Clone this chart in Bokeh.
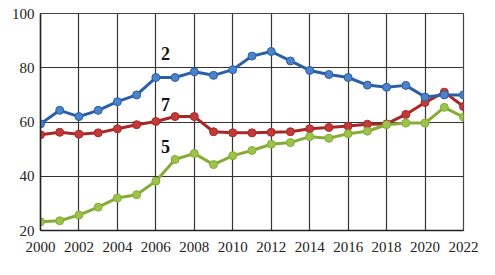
from bokeh.plotting import figure
from bokeh.embed import file_html
from bokeh.resources import INLINE
from bokeh.models import Range1d, FixedTicker
from bokeh.core.properties import value

years = list(range(2000, 2023))
series_2 = [59.3, 64.3, 62.0, 64.3, 67.5, 70.0, 76.4, 76.4, 78.5, 77.2, 79.3, 84.3, 86.0,
            82.5, 79.0, 77.5, 76.4, 73.6, 72.8, 73.5, 69.2, 70.0, 70.0]
series_7 = [55.3, 56.2, 55.5, 56.0, 57.5, 59.0, 60.2, 62.0, 62.0, 56.4, 56.0, 56.0, 56.2,
            56.4, 57.5, 58.0, 58.5, 59.2, 59.3, 62.8, 67.2, 71.0, 65.7]
series_5 = [23.2, 23.6, 25.7, 28.6, 32.0, 33.2, 38.2, 46.2, 48.4, 44.3, 47.6, 49.5, 51.8,
            52.4, 54.6, 54.0, 55.7, 56.6, 59.0, 59.6, 59.6, 65.4, 61.8]
labels = ["2", "7", "5"]
label_x = [2006.5, 2006.5, 2006.5]
label_y = [85.2, 66.4, 51.0]
x_ticks = list(range(2000, 2023, 2))
y_ticks = [20, 40, 60, 80, 100]

p = figure(width=479, height=259, output_backend="svg", toolbar_location=None,
           x_range=Range1d(2000, 2022), y_range=Range1d(20, 100),
           min_border_left=40, min_border_right=16, min_border_top=13, min_border_bottom=29)
p.background_fill_color = "white"
p.border_fill_color = "white"
p.outline_line_color = "#444444"
p.outline_line_width = 1.2

for ax, ticks in ((p.xaxis, x_ticks), (p.yaxis, y_ticks)):
    ax.ticker = FixedTicker(ticks=ticks)
    ax.major_label_text_font = "Times New Roman"
    ax.major_label_text_font_size = "15px"
    ax.major_label_text_color = "#222222"
    ax.major_tick_line_color = None
    ax.minor_tick_line_color = None
    ax.major_tick_out = 0
    ax.major_tick_in = 0
    ax.axis_line_color = "#222222"
    ax.axis_line_width = 1.5
p.xaxis.major_label_standoff = 11
p.yaxis.major_label_standoff = 6

p.xgrid.ticker = FixedTicker(ticks=x_ticks)
p.ygrid.ticker = FixedTicker(ticks=y_ticks)
p.grid.grid_line_color = "#333333"
p.grid.grid_line_width = 1.2
p.grid.grid_line_alpha = 1

colors = [("#2a5fa8", "#4b82c8"), ("#a82828", "#c23a3a"), ("#86ac36", "#9cc34a")]
for data, (lc, mc) in zip([series_7, series_5, series_2], [colors[1], colors[2], colors[0]]):
    p.line(years, data, line_color=lc, line_width=3)
    p.scatter(years, data, size=8, fill_color=mc, line_color=lc, line_width=1)

p.text(x=label_x, y=label_y, text=labels, text_font=value("Liberation Serif"),
       text_font_size="18px", text_font_style="bold", text_align="center",
       text_baseline="middle", text_color="#111111")

open("out.html", "w").write(file_html(p, INLINE))
